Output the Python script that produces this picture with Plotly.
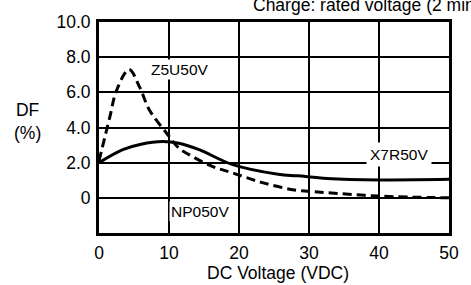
import plotly.graph_objects as go

# Data
x7r_x = [0, 3.4, 6, 9.1, 11.4, 14.3, 19, 25.6, 28.4, 32.6, 40.2, 50]
x7r_y = [2.0, 2.74, 3.05, 3.2, 3.1, 2.74, 1.9, 1.34, 1.25, 1.1, 1.02, 1.05]

z5u_x = [0, 1.55, 2.5, 4.3, 5.8, 7.2, 9.8, 11.4, 12.85, 16.1, 19, 23.2, 27.9, 31.7, 40, 50]
z5u_y = [2.1, 4.6, 6.1, 7.3, 6.3, 5.0, 3.6, 2.83, 2.46, 1.8, 1.43, 0.88, 0.45, 0.32, 0.1, 0.0]

x_ticks = [0, 10, 20, 30, 40, 50]
y_ticks = [0, 2, 4, 6, 8, 10]
y_tick_text = ["0", "2.0", "4.0", "6.0", "8.0", "10.0"]

FONT = "Liberation Sans, Arial, sans-serif"
FS = 17.5
LFS = 15.5

fig = go.Figure()
fig.add_trace(go.Scatter(x=x7r_x, y=x7r_y, mode="lines", name="X7R50V",
                         line=dict(color="black", width=3, shape="spline", smoothing=1.0)))
fig.add_trace(go.Scatter(x=z5u_x, y=z5u_y, mode="lines", name="Z5U50V",
                         line=dict(color="black", width=3, dash="9px,5px", shape="spline", smoothing=1.0)))

fig.update_layout(
    width=471, height=285,
    margin=dict(l=99, r=18, t=20, b=52),
    paper_bgcolor="white", plot_bgcolor="white",
    showlegend=False,
    font=dict(family=FONT, size=FS, color="black"),
    xaxis=dict(range=[0, 50], tickvals=x_ticks, showgrid=True, gridcolor="black", gridwidth=2,
               showline=True, linecolor="black", linewidth=3, mirror=True,
               ticks="", ticklabelstandoff=2, zeroline=False,
               tickfont=dict(family=FONT, size=FS)),
    yaxis=dict(range=[-2, 10], tickvals=y_ticks, ticktext=y_tick_text, showgrid=True,
               gridcolor="black", gridwidth=2,
               showline=True, linecolor="black", linewidth=3, mirror=True,
               ticks="", ticklabelstandoff=2, zeroline=False,
               tickfont=dict(family=FONT, size=FS)),
    annotations=[
        dict(text="Charge: rated voltage (2 minutes)", xref="paper", yref="paper",
             x=0.435, y=1.08, xanchor="left", yanchor="middle", showarrow=False,
             font=dict(size=FS)),
        dict(text="DF<br>(%)", xref="paper", yref="paper", x=-0.203, y=0.53,
             xanchor="center", yanchor="middle", showarrow=False, font=dict(size=FS)),
        dict(text="DC Voltage (VDC)", xref="paper", yref="paper", x=0.511, y=-0.19,
             xanchor="center", yanchor="middle", showarrow=False, font=dict(size=FS)),
        dict(text="Z5U50V", x=11.6, y=7.3, xref="x", yref="y", showarrow=False,
             bgcolor="white", xanchor="center", font=dict(size=LFS)),
        dict(text="X7R50V", x=42.8, y=2.46, xref="x", yref="y", showarrow=False,
             bgcolor="white", borderpad=3, font=dict(size=LFS)),
        dict(text="NP050V", x=14.4, y=-0.75, xref="x", yref="y", showarrow=False,
             bgcolor="white", font=dict(size=LFS)),
    ],
)

fig.write_html("out.html", config={"displayModeBar": False},
               post_script="document.body.style.margin='0';")
